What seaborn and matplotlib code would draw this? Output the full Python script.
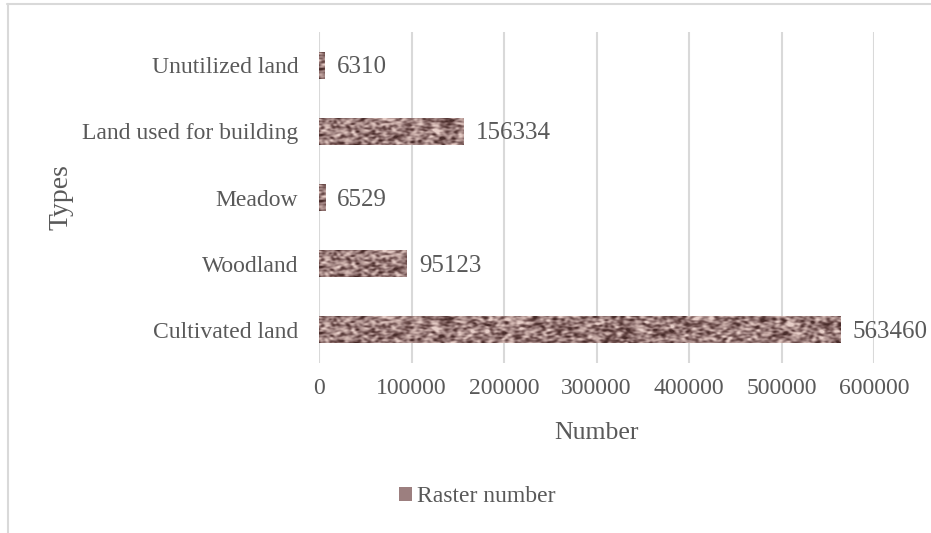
import numpy as np
import pandas as pd
import matplotlib
matplotlib.use("Agg")
import matplotlib.pyplot as plt
from matplotlib.colors import LinearSegmentedColormap
from matplotlib.patches import Patch
from matplotlib.lines import Line2D
import seaborn as sns

# Land-use categories and their raster counts
types = ["Unutilized land", "Land used for building", "Meadow", "Woodland", "Cultivated land"]
counts = [6310, 156334, 6529, 95123, 563460]
x_ticks = [0, 100000, 200000, 300000, 400000, 500000, 600000]
series_name = "Raster number"

sns.set_theme(style="white")
plt.rcParams["font.family"] = ["Liberation Serif", "DejaVu Serif"]
TEXT = "#595959"
GRID = "#d9d9d9"

df = pd.DataFrame({"Types": types, "Number": counts})

fig = plt.figure(figsize=(9.31, 5.33), dpi=100)
ax = fig.add_axes([319 / 931, 1 - 363 / 533, (874 - 319) / 931, (363 - 32) / 533])

sns.barplot(data=df, y="Types", x="Number", orient="h", color="#a08585",
            width=0.41, ax=ax, saturation=1, linewidth=0)

# Mottled stone-like fill for the bars
cmap = LinearSegmentedColormap.from_list(
    "stone", ["#482c2a", "#70514f", "#9c7f7d", "#c6aaa5", "#e8d0ca"])
rng = np.random.default_rng(5)


def blur(a, sy, sx):
    fy = np.fft.fftfreq(a.shape[0])[:, None]
    fx = np.fft.fftfreq(a.shape[1])[None, :]
    g = np.exp(-2 * np.pi ** 2 * ((sy * fy) ** 2 + (sx * fx) ** 2))
    return np.real(np.fft.ifft2(np.fft.fft2(a) * g))


tex = blur(rng.standard_normal((28, 560)), 0.9, 1.6)
lo, hi = np.percentile(tex, [1, 99])
tex = np.clip((tex - lo) / (hi - lo), 0, 1)

for p in list(ax.patches):
    x0, y0 = p.get_x(), p.get_y()
    w, h = p.get_width(), p.get_height()
    ncols = max(2, int(560 * w / 600000))
    im = ax.imshow(tex[:, :ncols], cmap=cmap, extent=(x0, x0 + w, y0 + h, y0),
                   aspect="auto", interpolation="bilinear", zorder=p.get_zorder() + 0.1)
    im.set_clip_path(p)

ax.set_xlim(0, 600000)
ax.set_ylim(4.5, -0.5)
ax.set_xticks(x_ticks)
ax.set_xticklabels([str(v) for v in x_ticks])
ax.grid(axis="x", color=GRID, linewidth=1.5)
ax.grid(axis="y", visible=False)
ax.set_axisbelow(True)
for s in ax.spines.values():
    s.set_visible(False)

ax.tick_params(axis="x", length=0, pad=11, labelsize=17, labelcolor=TEXT)
ax.tick_params(axis="y", length=0, pad=15, labelsize=17, labelcolor=TEXT)

ax.set_xlabel("Number", fontsize=18.5, color=TEXT)
ax.xaxis.label.set_verticalalignment("center")
ax.xaxis.set_label_coords(0.5, -(433 - 363) / 331)

ax.set_ylabel("Types", fontsize=20, color=TEXT)
ax.yaxis.label.set_verticalalignment("center")
ax.yaxis.set_label_coords(-(319 - 61) / 555, 0.5)

for i, v in enumerate(counts):
    ax.annotate(str(v), xy=(v, i), xytext=(8.5, -1.5), textcoords="offset points",
                va="center", ha="left", fontsize=18, color=TEXT, annotation_clip=False)

handle = Patch(facecolor="#9c7f7f", edgecolor="none")
fig.legend([handle], [series_name], loc="center", bbox_to_anchor=(477 / 931, 1 - 497 / 533),
           frameon=False, fontsize=17, labelcolor=TEXT, handlelength=0.55, handleheight=0.55,
           handletextpad=0.2)

# Chart frame
fig.add_artist(Line2D([7 / 931, 1], [1 - 3.5 / 533] * 2, color=GRID, linewidth=1.5,
                      transform=fig.transFigure))
fig.add_artist(Line2D([7.5 / 931] * 2, [0, 1 - 3.5 / 533], color=GRID, linewidth=1.5,
                      transform=fig.transFigure))

fig.savefig("out.png", dpi=100)
